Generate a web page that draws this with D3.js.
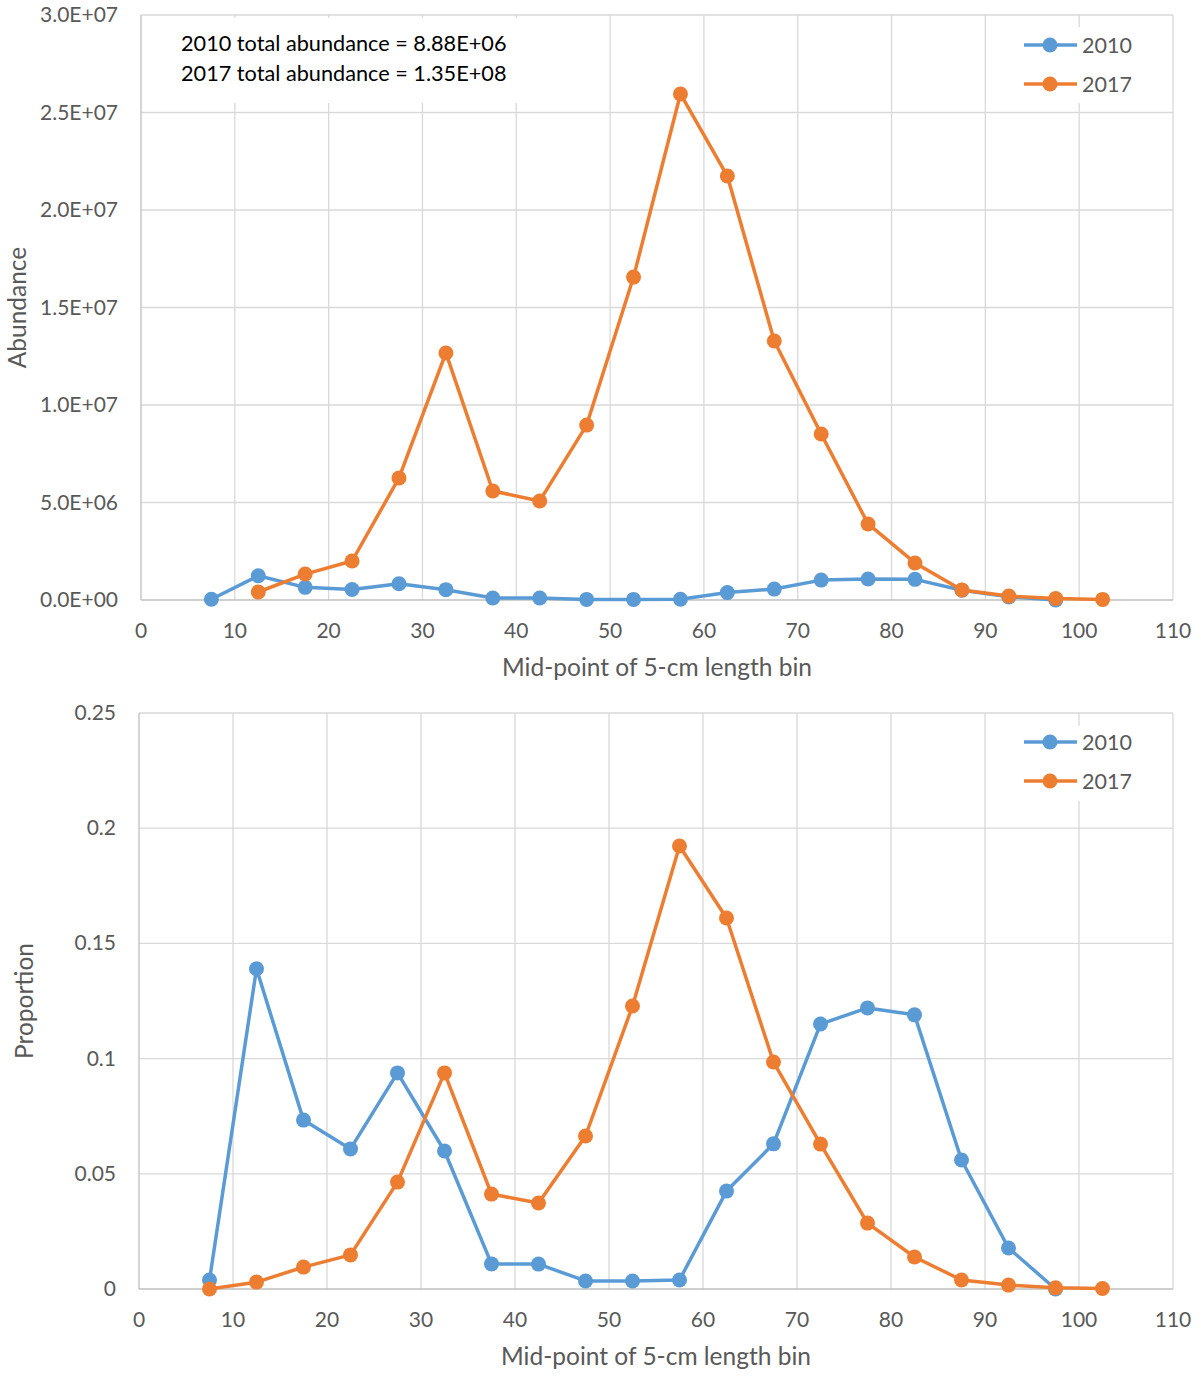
<!DOCTYPE html>
<html><head><meta charset="utf-8">
<script src="https://cdn.jsdelivr.net/npm/d3@7"></script>
<style>body{margin:0;background:#fff;} svg{display:block;}</style>
</head><body>
<svg id="chart" width="1201" height="1377"></svg>
<script>
const bins = [7.5,12.5,17.5,22.5,27.5,32.5,37.5,42.5,47.5,52.5,57.5,62.5,67.5,72.5,77.5,82.5,87.5,92.5,97.5,102.5];
// Abundance (top)
const abund2010 = [0.036e6,1.24e6,0.65e6,0.54e6,0.83e6,0.53e6,0.10e6,0.10e6,0.03e6,0.03e6,0.035e6,0.38e6,0.56e6,1.02e6,1.08e6,1.06e6,0.50e6,0.16e6,0.0,null];
const abund2017 = [null,0.41e6,1.33e6,2.0e6,6.26e6,12.67e6,5.59e6,5.08e6,8.97e6,16.56e6,25.95e6,21.74e6,13.28e6,8.51e6,3.9e6,1.9e6,0.51e6,0.2e6,0.08e6,0.03e6];
// Proportion (bottom)
const prop2010 = [0.0039,0.139,0.0733,0.0608,0.0938,0.0599,0.0109,0.0108,0.0035,0.0035,0.0039,0.0425,0.063,0.115,0.122,0.119,0.056,0.0178,0.0,null];
const prop2017 = [0.0,0.003,0.0095,0.0148,0.0464,0.0938,0.0412,0.0373,0.0664,0.1228,0.1923,0.161,0.0985,0.0629,0.0286,0.0139,0.0039,0.0017,0.0005,0.0002];
const xTicks = [0,10,20,30,40,50,60,70,80,90,100,110];
const yTicksTop = [0,5e6,1e7,1.5e7,2e7,2.5e7,3e7];
const yTickLabelsTop = ["0.0E+00","5.0E+06","1.0E+07","1.5E+07","2.0E+07","2.5E+07","3.0E+07"];
const yTicksBottom = [0,0.05,0.1,0.15,0.2,0.25];
const yTickLabelsBottom = ["0","0.05","0.1","0.15","0.2","0.25"];
const seriesNames = ["2010","2017"];
const colors = ["#5B9BD5","#ED7D31"];
const annotation = ["2010 total abundance = 8.88E+06","2017 total abundance = 1.35E+08"];
const xTitle = "Mid-point of 5-cm length bin";

const FONT = "Lato, 'Open Sans', sans-serif";
const svg = d3.select("#chart");

function drawPanel(cfg){
  const g = svg.append("g");
  const x = d3.scaleLinear().domain([0,110]).range([cfg.left,cfg.right]);
  const y = d3.scaleLinear().domain([0,cfg.ymax]).range([cfg.bottom,cfg.top]);
  g.append("g").selectAll("line").data(cfg.yTicks.slice(1)).join("line")
    .attr("x1",cfg.left).attr("x2",cfg.right).attr("y1",d=>y(d)).attr("y2",d=>y(d))
    .attr("stroke","#D9D9D9").attr("stroke-width",1.3);
  g.append("g").selectAll("line").data(xTicks.slice(1)).join("line")
    .attr("x1",d=>x(d)).attr("x2",d=>x(d)).attr("y1",cfg.top).attr("y2",cfg.bottom)
    .attr("stroke","#D9D9D9").attr("stroke-width",1.3);
  g.append("line").attr("x1",cfg.left).attr("x2",cfg.left).attr("y1",cfg.top).attr("y2",cfg.bottom).attr("stroke","#BFBFBF").attr("stroke-width",1.3);
  g.append("line").attr("x1",cfg.left).attr("x2",cfg.right).attr("y1",cfg.bottom).attr("y2",cfg.bottom).attr("stroke","#BFBFBF").attr("stroke-width",1.3);
  cfg.boxes.forEach(b=>{
    g.append("rect").attr("x",b[0]).attr("y",b[1]).attr("width",b[2]).attr("height",b[3]).attr("fill","#fff");
  });
  g.append("g").selectAll("text").data(xTicks).join("text")
    .attr("x",d=>x(d)).attr("y",cfg.bottom+38).attr("text-anchor","middle")
    .attr("font-family",FONT).attr("font-size",21).attr("fill","#595959").text(d=>d);
  g.append("g").selectAll("text").data(cfg.yTicks).join("text")
    .attr("x",cfg.ylabX).attr("y",d=>y(d)+7).attr("text-anchor","end")
    .attr("font-family",FONT).attr("font-size",21).attr("fill","#595959").text((d,i)=>cfg.yLabels[i]);
  g.append("text").attr("x",(cfg.left+cfg.right)/2).attr("y",cfg.bottom+76).attr("text-anchor","middle")
    .attr("font-family",FONT).attr("font-size",24.5).attr("fill","#595959").text(xTitle);
  g.append("text").attr("transform",`translate(${cfg.ytitleX},${(cfg.top+cfg.bottom)/2}) rotate(-90)`)
    .attr("text-anchor","middle").attr("font-family",FONT).attr("font-size",24.5).attr("fill","#595959").text(cfg.yTitle);
  const line = d3.line().defined(d=>d[1]!=null).x(d=>x(d[0])).y(d=>y(d[1]));
  cfg.series.forEach((vals,si)=>{
    const pts = bins.map((b,i)=>[b,vals[i]]);
    g.append("path").attr("d",line(pts)).attr("fill","none").attr("stroke",colors[si])
      .attr("stroke-width",3.5).attr("stroke-linejoin","round");
    g.append("g").selectAll("circle").data(pts.filter(d=>d[1]!=null)).join("circle")
      .attr("cx",d=>x(d[0])).attr("cy",d=>y(d[1])).attr("r",7.5).attr("fill",colors[si]);
  });
  seriesNames.forEach((n,i)=>{
    const ly = cfg.legendY + i*39;
    g.append("line").attr("x1",1024).attr("x2",1077).attr("y1",ly).attr("y2",ly).attr("stroke",colors[i]).attr("stroke-width",3.5);
    g.append("circle").attr("cx",1050).attr("cy",ly).attr("r",7.5).attr("fill",colors[i]);
    g.append("text").attr("x",1082).attr("y",ly+7.5).attr("font-family",FONT).attr("font-size",21.5).attr("fill","#595959").text(n);
  });
  return g;
}

const topPanel = drawPanel({left:141,right:1173,top:15,bottom:600,ymax:3e7,yTicks:yTicksTop,yLabels:yTickLabelsTop,
  ylabX:118,ytitleX:26,yTitle:"Abundance",series:[abund2010,abund2017],legendY:45,
  boxes:[[145,18,400,85],[1018,27,140,76]]});
topPanel.selectAll("text.ann").data(annotation).join("text").attr("class","ann")
  .attr("x",181).attr("y",(d,i)=>51+i*30).attr("font-family",FONT).attr("font-size",21.7).attr("fill","#000").text(d=>d);

drawPanel({left:139,right:1173,top:713,bottom:1289,ymax:0.25,yTicks:yTicksBottom,yLabels:yTickLabelsBottom,
  ylabX:116,ytitleX:33,yTitle:"Proportion",series:[prop2010,prop2017],legendY:742,
  boxes:[[1018,726,140,75]]});
</script>
</body></html>
